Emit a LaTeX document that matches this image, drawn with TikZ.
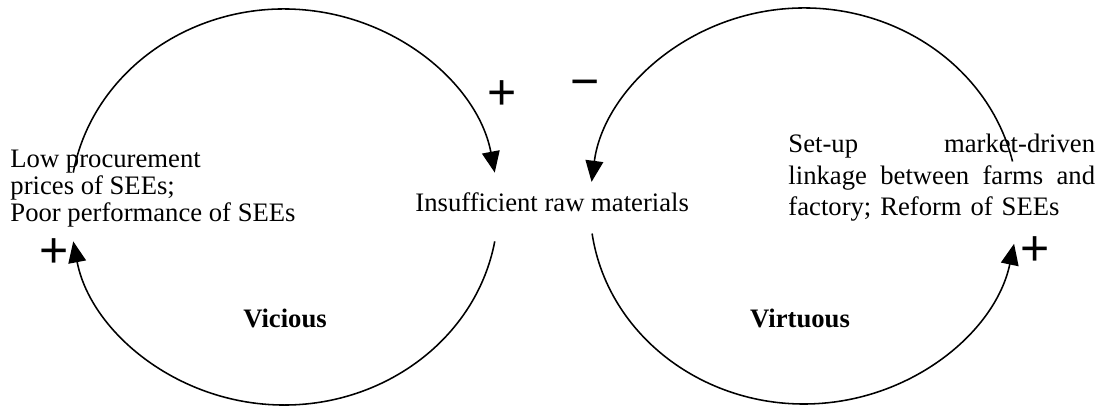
\documentclass[tikz,border=0pt]{standalone}
\usepackage{fontspec}
\setmainfont{Liberation Serif}
\setsansfont{Liberation Sans}
\usepackage{tikz}
\usetikzlibrary{positioning, arrows.meta, calc}

\begin{document}
\begin{tikzpicture}[
  x=0.45pt, y=0.45pt,
  lbl/.style={inner sep=0pt, font=\fontsize{12}{12.2}\selectfont, align=left},
  sgn/.style={inner sep=0pt, font=\fontsize{22.5}{22.5}\sffamily},
  loopname/.style={inner sep=0pt, font=\fontsize{12}{12}\selectfont\bfseries},
  arr/.style={-{Triangle[length=9.5pt, width=8pt]}, line width=0.7pt},
]
\useasboundingbox (0,0) rectangle (1108,408);

% loop centres
\coordinate (cl) at (284,201);
\coordinate (cr) at (804,202);

\node[lbl, anchor=base west] (low) at (10,186) {Low procurement\\prices of SEEs;\\Poor performance of SEEs};
\node[lbl, anchor=base west] (raw) at (415,196) {Insufficient raw materials};
\node[lbl, anchor=base west, text width=138pt, font=\fontsize{12}{14}\selectfont] (setup) at (788,255)
  {Set-up\hfill market-driven\\ linkage\hfill between\hfill farms\hfill and\\ factory; Reform of SEEs};

\node[loopname] (vic) at (285,90) {Vicious};
\node[loopname] (vir) at (800,90) {Virtuous};

\node[sgn] (pa) at (502,313) {+};
\node[sgn] (mb) at (585,319) {−};
\node[sgn] (pc) at (54,155) {+};
\node[sgn] (pd) at (1035,157) {+};

% vicious loop
\draw[arr] ($(cl)+(170:214 and 198)$) arc[start angle=170, end angle=10, x radius=214, y radius=198];
\draw[arr] ($(cl)+(-10:214 and 198)$) arc[start angle=-10, end angle=-170, x radius=214, y radius=198];
% virtuous loop
\draw[arr] ($(cr)+(13:214 and 198)$) arc[start angle=13, end angle=173, x radius=214, y radius=198];
\draw[arr] ($(cr)+(-172:214 and 198)$) arc[start angle=-172, end angle=-11, x radius=214, y radius=198];
\end{tikzpicture}
\end{document}
